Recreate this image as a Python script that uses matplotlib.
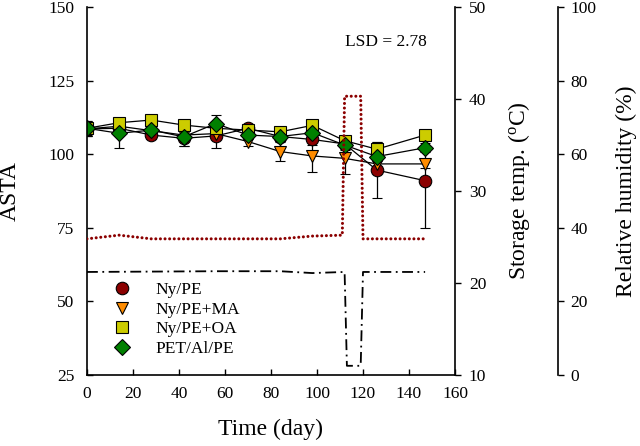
"""ASTA changes during storage with temperature / RH profile."""

import matplotlib

matplotlib.use("Agg")
import matplotlib.pyplot as plt
from matplotlib.lines import Line2D

plt.rcParams["font.family"] = ["Liberation Serif", "DejaVu Serif"]
plt.rcParams["mathtext.fontset"] = "custom"
plt.rcParams["mathtext.rm"] = "Liberation Serif"
plt.rcParams["mathtext.it"] = "Liberation Serif:italic"

# storage days for ASTA sampling
days = [0, 14, 28, 42, 56, 70, 84, 98, 112, 126, 147]

labels = ["Ny/PE", "Ny/PE+MA", "Ny/PE+OA", "PET/Al/PE"]
asta_ny = [108.6, 108.8, 106.5, 105.4, 106.2, 108.8, 106.0, 105.0, 103.5, 94.6, 91.0]
asta_ma = [108.6, 109.5, 108.0, 106.5, 107.0, 104.3, 100.9, 99.4, 98.6, 96.7, 96.7]
asta_oa = [108.8, 110.7, 111.6, 109.9, 108.8, 108.2, 107.6, 109.8, 104.6, 101.7, 106.5]
asta_pet = [108.8, 107.1, 108.2, 105.9, 110.4, 106.5, 106.0, 107.3, 103.1, 99.2, 102.2]

err_ny = [2.5, 1.5, 1.5, 2.5, 4.2, 1.5, 1.5, 2.0, 2.0, 9.4, 16.0]
err_ma = [2.0, 1.5, 1.5, 1.5, 1.5, 1.5, 3.2, 5.3, 5.3, 2.0, 1.5]
err_oa = [2.5, 1.5, 1.5, 1.5, 1.5, 1.5, 1.5, 1.5, 1.5, 2.3, 1.5]
err_pet = [2.5, 5.0, 1.5, 3.0, 3.0, 1.5, 1.5, 1.5, 1.5, 1.5, 1.5]

# storage temperature (oC)
temp_days = [0, 14, 28, 56, 84, 98, 111, 112, 119, 120, 147]
temp_vals = [24.8, 25.2, 24.8, 24.8, 24.8, 25.1, 25.2, 40.3, 40.3, 24.8, 24.8]

# relative humidity (%)
rh_days = [0, 56, 84, 98, 112, 113, 119, 120, 147]
rh_vals = [28.0, 28.2, 28.2, 27.7, 28.0, 2.5, 2.5, 28.0, 28.0]

lsd_text = "LSD = 2.78"

series = [
    (asta_ny, err_ny, "o", "#8b0000"),
    (asta_ma, err_ma, "v", "#ff8c00"),
    (asta_oa, err_oa, "s", "#cccc00"),
    (asta_pet, err_pet, "D", "#008000"),
]
sizes = {"o": 9, "v": 9, "s": 8.5, "D": 8}

fig = plt.figure(figsize=(6.4, 4.46), dpi=100)
ax = fig.add_axes([87 / 640, 71 / 446, 368 / 640, 368 / 446])

for vals, errs, mk, col in series:
    ax.errorbar(days, vals, yerr=errs, fmt="-", color="black", lw=0.9,
                ecolor="black", elinewidth=0.9, capsize=3.5, capthick=0.9,
                marker=mk, ms=sizes[mk], mfc=col, mec="black", mew=0.8)

ax.set_xlim(0, 160)
ax.set_ylim(25, 150)
ax.set_xticks(range(0, 161, 20))
ax.set_yticks(range(25, 151, 25))
ax.tick_params(direction="in", labelsize=12.5, length=4, width=1)
ax.tick_params(axis="x", pad=8)
ax.tick_params(axis="y", pad=9)
ax.spines["top"].set_visible(False)
ax.spines["right"].set_visible(False)
ax.spines["left"].set_linewidth(1.2)
ax.spines["bottom"].set_linewidth(1.2)
ax.set_xlabel("Time (day)", fontsize=17, labelpad=12)
ax.set_ylabel("ASTA", fontsize=17, labelpad=20)
ax.text(130, 138, lsd_text, fontsize=12.5, ha="center", va="center")

handles = [Line2D([], [], ls="none", marker=mk, ms=sizes[mk], mfc=col, mec="black", mew=0.8)
           for _, _, mk, col in series]
ax.legend(handles, labels, loc="lower left", bbox_to_anchor=(0.03, 0.03), frameon=False,
          fontsize=12.5, handletextpad=0.9, labelspacing=0.2, borderaxespad=0)

# storage temperature axis
ax2 = ax.twinx()
ax2.plot(temp_days, temp_vals, color="#8b0000", lw=2.2, ls=(0, (0.01, 1.5)),
         dash_capstyle="round")
ax2.set_ylim(10, 50)
ax2.set_yticks(range(10, 51, 10))
ax2.tick_params(direction="out", labelsize=12.5, length=4, width=1, pad=6)
for s in ["top", "left", "bottom"]:
    ax2.spines[s].set_visible(False)
ax2.spines["right"].set_linewidth(1.2)
ax2.set_ylabel("Storage temp. ($^{\\rm o}$C)", fontsize=17, labelpad=14)

# relative humidity axis
ax3 = ax.twinx()
ax3.spines["right"].set_position(("axes", 471 / 368))
ax3.plot(rh_days, rh_vals, color="black", lw=1.3, ls=(0, (6, 2.5, 1, 2.5)))
ax3.set_ylim(0, 100)
ax3.set_yticks(range(0, 101, 20))
ax3.tick_params(direction="out", labelsize=12.5, length=4, width=1, pad=5)
for s in ["top", "left", "bottom"]:
    ax3.spines[s].set_visible(False)
ax3.spines["right"].set_linewidth(1.2)
ax3.set_ylabel("Relative humidity (%)", fontsize=17, labelpad=14)

fig.savefig("out.png", dpi=100)
